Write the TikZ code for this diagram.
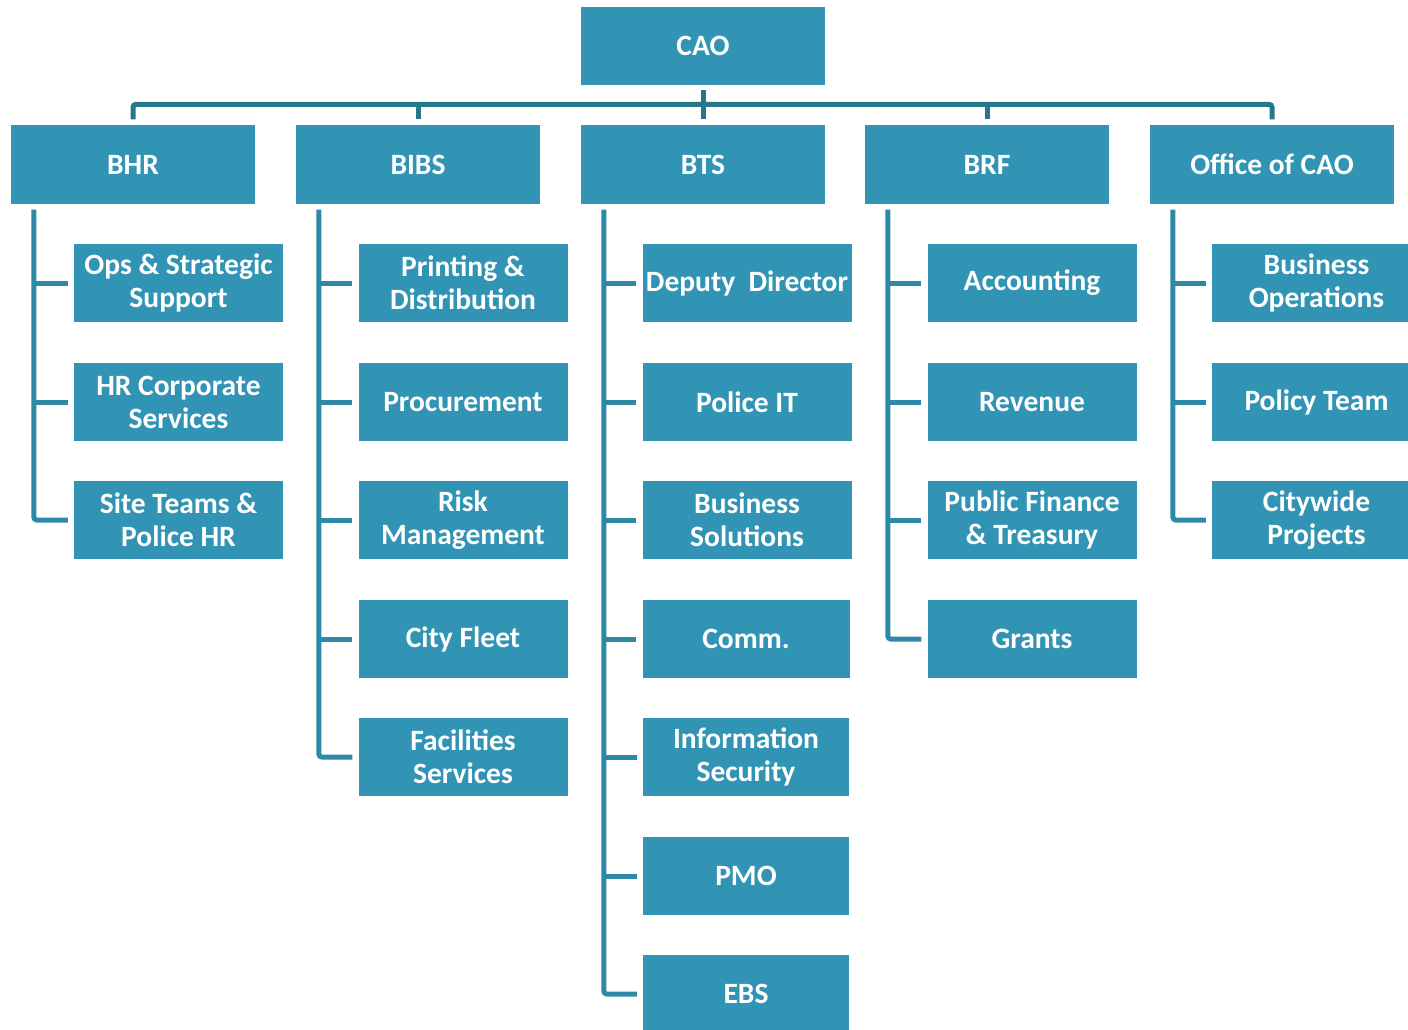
\documentclass[tikz,border=0pt]{standalone}
\usepackage{fontspec}
\setmainfont{Carlito}
\definecolor{boxblue}{RGB}{49,148,180}
\definecolor{busblue}{RGB}{38,118,140}
\definecolor{kidblue}{RGB}{46,137,166}
\tikzset{
  box/.style={fill=boxblue, text=white, font=\fontsize{29.5}{33}\selectfont\bfseries, align=center, inner sep=0pt, minimum height=78pt},
  topbox/.style={box, minimum width=244pt},
  kidbox/.style={box, minimum width=209pt},
  bus/.style={draw=busblue, line width=5pt, rounded corners=3pt},
  kidline/.style={draw=kidblue, line width=5pt, rounded corners=3pt},
}
\begin{document}
\begin{tikzpicture}[x=1pt,y=-1pt]
\useasboundingbox (0,0) rectangle (1408,1030);
\clip (0,0) rectangle (1408,1030);
\fill[white] (0,0) rectangle (1408,1030);
% top
\node[topbox] (cao) at (703,46) {CAO};
\node[topbox] (bhr) at (133,164.5) {BHR};
\node[topbox] (bibs) at (418,164.5) {BIBS};
\node[topbox] (bts) at (703,164.5) {BTS};
\node[topbox] (brf) at (987,164.5) {BRF};
\node[topbox] (ocao) at (1272,164.5) {Office of CAO};
% BHR children
\node[kidbox] (a1) at (178.5,283) {Ops \& Strategic\\Support};
\node[kidbox] (a2) at (178.5,402) {HR Corporate\\Services};
\node[kidbox] (a3) at (178.5,520) {Site Teams \&\\Police HR};
% BIBS children
\node[kidbox] (b1) at (463,283) {Printing \&\\Distribution};
\node[kidbox] (b2) at (463,402) {Procurement};
\node[kidbox] (b3) at (463,520) {Risk\\Management};
\node[kidbox] (b4) at (463,639) {City Fleet};
\node[kidbox] (b5) at (463,757) {Facilities\\Services};
% BTS children
\node[kidbox] (c1) at (747,283) {Deputy\ \ Director};
\node[kidbox] (c2) at (747,402) {Police IT};
\node[kidbox] (c3) at (747,520) {Business\\Solutions};
\node[kidbox, minimum width=207pt] (c4) at (746,639) {Comm.};
\node[kidbox, minimum width=206pt] (c5) at (746,757) {Information\\Security};
\node[kidbox, minimum width=206pt] (c6) at (746,876) {PMO};
\node[kidbox, minimum width=206pt] (c7) at (746,994) {EBS};
% BRF children
\node[kidbox] (d1) at (1032,283) {Accounting};
\node[kidbox] (d2) at (1032,402) {Revenue};
\node[kidbox] (d3) at (1032,520) {Public Finance\\\& Treasury};
\node[kidbox] (d4) at (1032,639) {Grants};
% Office children
\node[kidbox] (e1) at (1316.5,283) {Business\\Operations};
\node[kidbox] (e2) at (1316.5,402) {Policy Team};
\node[kidbox] (e3) at (1316.5,520) {Citywide\\Projects};
% top bus
\draw[bus] ([yshift=6pt]bhr.north) -- ([yshift=21pt]bhr.north) -- ([yshift=21pt]ocao.north) -- ([yshift=6pt]ocao.north);
\draw[bus] ([yshift=6pt]bibs.north) -- ([yshift=21pt]bibs.north);
\draw[bus] ([yshift=6pt]brf.north) -- ([yshift=21pt]brf.north);
\draw[bus] ([yshift=-5pt]cao.south) -- ([yshift=6pt]bts.north);
% children lines
\foreach \p/\last/\list in {bhr/a3/{a1,a2}, bibs/b5/{b1,b2,b3,b4}, bts/c7/{c1,c2,c3,c4,c5,c6}, brf/d4/{d1,d2,d3}, ocao/e3/{e1,e2}}{
  \coordinate (top-\p) at ([xshift=23pt,yshift=-6pt]\p.south west);
  \draw[kidline] (top-\p) |- ([xshift=-6pt]\last.west);
  \foreach \k in \list {
    \draw[kidline] (top-\p |- \k.west) -- ([xshift=-6pt]\k.west);
  }
}
\end{tikzpicture}
\end{document}
